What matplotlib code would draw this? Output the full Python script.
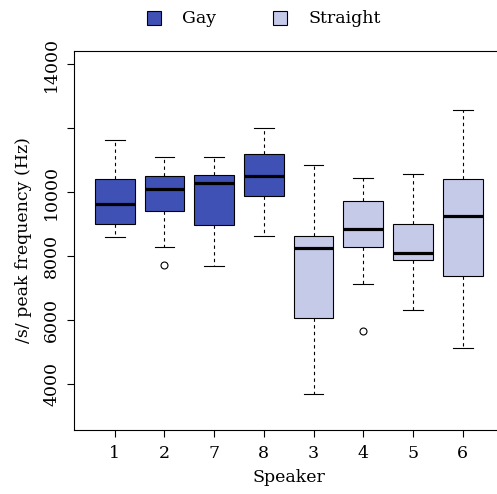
import matplotlib
matplotlib.use("Agg")
import matplotlib.pyplot as plt
from matplotlib.patches import Rectangle

# Peak frequency of /s/ per speaker, summarised as box-plot statistics
speakers = ["1", "2", "7", "8", "3", "4", "5", "6"]
groups = ["Gay", "Gay", "Gay", "Gay", "Straight", "Straight", "Straight", "Straight"]
whisker_low = [8600, 8300, 7700, 8650, 3690, 7150, 6320, 5130]
quartile_1 = [9020, 9410, 8970, 9880, 6070, 8290, 7880, 7380]
medians = [9630, 10100, 10280, 10510, 8270, 8860, 8110, 9270]
quartile_3 = [10420, 10500, 10550, 11200, 8640, 9730, 9010, 10410]
whisker_high = [11640, 11100, 11100, 12010, 10860, 10450, 10560, 12560]
outliers = [[], [7720], [], [], [], [5670], [], []]

group_colors = {"Gay": "#3F51B5", "Straight": "#C5CAE9"}
y_ticks = [4000, 6000, 8000, 10000, 12000, 14000]
# the 12000 label is left out, as crowded labels are skipped on this axis
y_tick_labels = ["4000", "6000", "8000", "10000", "", "14000"]

plt.rcParams["font.family"] = ["DejaVu Serif"]
plt.rcParams["font.size"] = 12.5

W, H = 497, 494
fig = plt.figure(figsize=(W / 100, H / 100), dpi=100)

# axes frame in pixel terms: left 74, top 50.7, bottom 430, right beyond edge
left, right, top, bottom = 74, 503.4, 50.7, 430
ax = fig.add_axes([left / W, 1 - bottom / H, (right - left) / W, (bottom - top) / H])

stats = []
for i in range(len(speakers)):
    stats.append(dict(label=speakers[i], whislo=whisker_low[i], q1=quartile_1[i],
                      med=medians[i], q3=quartile_3[i], whishi=whisker_high[i],
                      fliers=outliers[i]))

positions = list(range(1, len(speakers) + 1))
bp = ax.bxp(stats, positions=positions, widths=0.8, capwidths=0.4,
            patch_artist=True, showfliers=True,
            boxprops=dict(linewidth=0.8, edgecolor="black"),
            medianprops=dict(color="black", linewidth=2.3),
            whiskerprops=dict(color="black", linewidth=0.8, linestyle=(0, (3, 3))),
            capprops=dict(color="black", linewidth=0.8),
            flierprops=dict(marker="o", markersize=5, markerfacecolor="none",
                            markeredgecolor="black", markeredgewidth=0.8))
for patch, g in zip(bp["boxes"], groups):
    patch.set_facecolor(group_colors[g])

ax.set_xlim(0.18, 8.82)
ax.set_ylim(2572, 14425)
ax.set_xticks(positions)
ax.set_xticklabels(speakers)
ax.set_yticks(y_ticks)
ax.set_yticklabels(y_tick_labels, rotation=90, va="center")

for s in ax.spines.values():
    s.set_linewidth(0.8)
ax.tick_params(axis="both", length=5, width=0.8, direction="out")
ax.tick_params(axis="x", pad=5.5)
ax.tick_params(axis="y", pad=5)

ax.set_xlabel("Speaker", labelpad=5)
ax.set_ylabel("/s/ peak frequency (Hz)", labelpad=8)

# legend row above the plot
legend_y = 1 - 18.5 / H
sq = 14
for x0, name in [(147, "Gay"), (273, "Straight")]:
    fig.patches.append(Rectangle((x0 / W, legend_y - sq / 2 / H), sq / W, sq / H,
                                 transform=fig.transFigure, facecolor=group_colors[name],
                                 edgecolor="black", linewidth=0.8))
    fig.text((x0 + 35) / W, legend_y, name, ha="left", va="center", fontsize=12.5)

fig.savefig("out.png", dpi=100)
